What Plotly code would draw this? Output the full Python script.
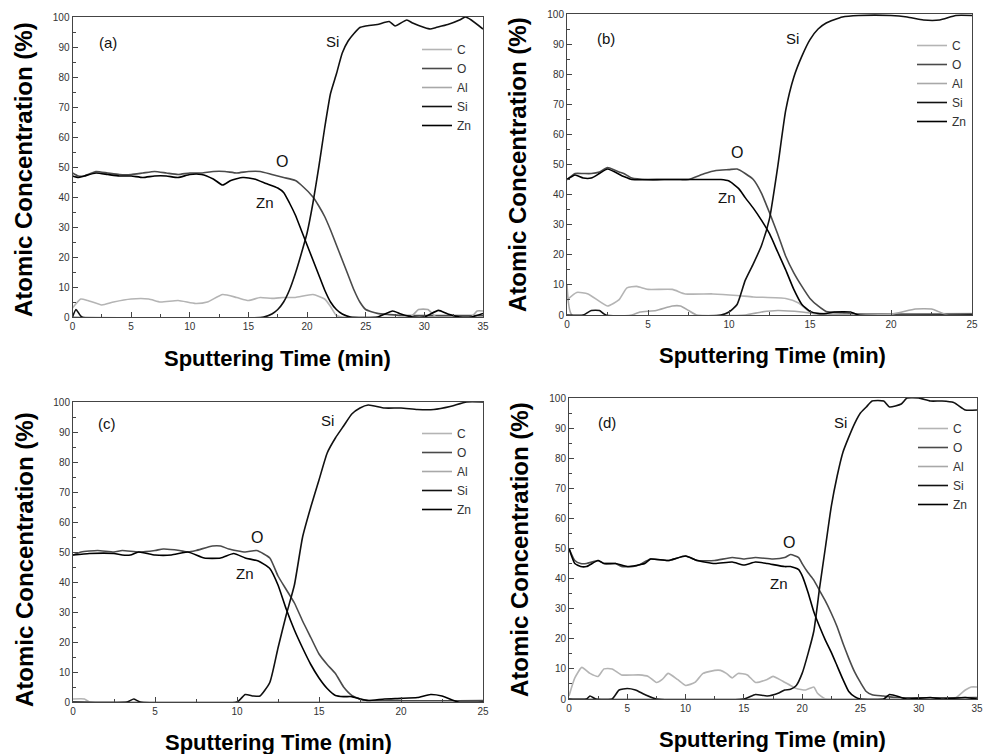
import plotly.graph_objects as go

# ---------------- data ----------------
elements = ["C", "O", "Al", "Si", "Zn"]
colors = {"C": "#b4b4b4", "O": "#4a4a4a", "Al": "#a8a8a8", "Si": "#111111", "Zn": "#000000"}
panel_labels = ["(a)", "(b)", "(c)", "(d)"]
x_max = [35, 25, 25, 35]

# panel (a)
a_C = [(0,3),(0.7,6),(1.3,5.5),(2.5,4),(3.5,5),(5,6),(6.5,6),(7.5,5),(9,5.5),(10.5,4.5),(11.5,5),(12.8,7.5),(14,6.5),(15,5.5),(16,6.5),(17,6.2),(18,6.5),(19,6.5),(20.5,7.5),(21.5,6),(22,3.5),(22.5,0.5),(23,0),(35,0)]
a_O = [(0,48),(0.5,47),(1,47),(2,48.5),(3,48),(4,47.5),(5,47.5),(6,48),(7,48.5),(8,48),(9,47.5),(10,48),(11,48),(12,48.5),(13,48.5),(14,48),(15,48.5),(16,48.5),(17,47.5),(18,46.5),(19,45.5),(19.5,44),(20.5,40),(21,37),(21.5,33.5),(22,29),(22.5,24),(23,19),(23.5,14),(24,9),(24.5,5),(25,2.5),(26,1.2),(27,0.8),(28,0.5),(35,0.5)]
a_Al = [(0,0),(28.8,0),(29.5,2.5),(30.3,2.5),(31,0),(34,0),(34.5,2),(35,2)]
a_Si = [(0,0),(0.3,2.5),(0.8,0),(16.3,0),(17,1),(17.5,2.5),(18,5),(18.5,9),(19,14.5),(19.5,21),(20,28),(20.5,38),(21,50),(21.5,63),(22,74.5),(22.5,81),(23,88),(23.5,92),(24,94.5),(24.5,96.5),(25,97),(26,97.5),(27,98.5),(27.5,97),(28.5,99),(29,98),(30,96.5),(30.5,96),(31,96.5),(32,97.5),(33,99),(33.5,100),(34,99),(35,96)]
a_Zn = [(0,47),(0.5,46.5),(1,47),(2,48),(3,47.5),(4,47),(5,47),(6,46.5),(7,47),(8,47),(9,46.5),(10,47.5),(11,47.5),(12,46),(12.8,44),(13.5,45.5),(14.5,46.5),(15.5,46),(16.5,44.5),(17.5,43),(18,41.5),(18.5,38),(19,34),(19.5,29),(20,24),(20.5,19),(21,14),(21.5,9),(22,5),(22.5,2.5),(23,1),(23.7,0),(26,0),(27.3,2),(28,1),(29,0),(30,0),(31.2,2.2),(32,1),(33,0),(34,0),(35,1.2)]

# panel (b)
b_C = [(0,5),(0.6,7.5),(1.3,7),(2.5,3),(3.2,5),(3.7,9),(4.3,9.5),(5,8.5),(6.5,8.5),(7.3,7),(9,7),(10.5,6.5),(11.5,6),(13.5,5.5),(14.3,4),(15,1),(16,0.5),(25,0.5)]
b_O = [(0,45),(0.5,47),(1,47),(1.5,47),(2,47.5),(2.5,49),(3,48),(3.5,47),(4,45.5),(5,45),(6,45),(7,45),(7.5,45),(8.5,47),(9.2,48),(10,48.3),(10.5,48.5),(11,47),(11.5,45),(12,40.5),(12.5,34),(13,27),(13.5,19.5),(14,14),(14.5,9.5),(15,5.5),(15.5,3),(16,1.2),(17,0.8),(18,0.3),(25,0.3)]
b_Al = [(0,10),(0.3,0),(4,0),(4.5,1),(5.5,1.5),(6.5,3),(7,3),(7.5,1.5),(8,0),(11,0),(12,1),(13,1.5),(14.5,1),(15.5,0.3),(20,0.3),(21.5,2),(22.5,2),(23.5,0),(25,0)]
b_Si = [(0,0),(1,0),(1.5,1.5),(2,1.5),(2.4,0),(9.5,0),(10,1),(10.5,3.5),(11,11.5),(11.5,17),(12,23),(12.5,32),(13,49),(13.5,68),(14,79),(14.5,86),(15,91.5),(15.5,95),(16,97),(17,99),(18,99.5),(20,99.5),(21,99),(22,98),(23,98),(24,99.5),(25,99.5)]
b_Zn = [(0,45),(0.5,46.5),(1,45.5),(1.5,45.5),(2,47),(2.5,48.5),(3.5,46),(4,45),(6,45),(8,45),(9.5,45),(10,44.5),(10.6,42),(11,39),(11.5,35.5),(12,31.5),(12.5,27),(13,21),(13.5,15),(14,8.5),(14.5,3.5),(15,1.2),(15.5,0.5),(16,0.5),(16.5,1),(17.5,1),(18,0),(25,0)]

# panel (c)
c_C = [(0,1),(0.7,1),(1,0),(25,0)]
c_O = [(0,49),(0.5,50),(1.5,50.5),(2.5,50),(3,50.5),(4,50),(5,50.5),(5.5,51),(6.5,50.5),(7,50),(7.5,50.5),(8.5,52),(9,52),(9.5,51),(10.5,50),(11.2,50.5),(12,48),(12.5,42),(13,37.5),(13.5,33),(14,27),(14.5,21.5),(15,16),(15.5,12.5),(16,9.5),(16.5,5),(17,2.2),(17.5,1),(18,0.5),(25,0.5)]
c_Al = [(0,0),(25,0)]
c_Si = [(0,0),(3.3,0),(3.7,1),(4.1,0),(10,0),(10.5,2.5),(11,2),(11.4,2),(12,6.5),(12.5,18),(13,29),(13.5,39),(14,55),(14.5,65),(15,74),(15.5,83),(16,88),(16.5,92),(17,96),(17.5,98),(18,99),(19,98),(20,98),(21,97.5),(22,97.5),(23,98.5),(24,100),(25,100)]
c_Zn = [(0,49),(1,49.5),(2.5,49.5),(3,49),(3.5,49),(4,50),(5,49),(6,49),(7,50),(8,48),(9,48),(9.8,49.5),(10.5,48),(11.3,47),(12,44.5),(12.5,39),(13,31),(13.5,24),(14,18),(14.5,12.5),(15,8),(15.5,4.5),(16,2.2),(16.5,1.8),(17,1.8),(17.5,1),(18,0.5),(19,1),(20,1.2),(21,1.5),(21.8,2.5),(22.5,2),(23.5,0),(25,0)]

# panel (d)
d_C = [(0,1),(0.5,7),(1.1,10.5),(1.8,8.5),(2.5,7.5),(3,10),(3.7,10),(4.5,8),(6,8),(6.8,7.5),(7.5,5.5),(8,6.5),(8.5,8.5),(9.3,6.5),(10,4.5),(10.8,5.5),(11.5,8.5),(12.5,9.5),(13,9.5),(13.5,8.5),(14,7),(14.5,8.5),(15.3,8),(16,5.5),(17,6.5),(17.5,7.5),(18.3,6),(19,4.5),(19.5,3.5),(20.3,3),(21,4),(21.3,2),(22,0),(33,0),(34,3),(34.5,4),(35,4)]
d_O = [(0,50),(0.5,46),(1,45),(1.5,45),(2.5,46),(3,45),(4,45),(4.5,44),(5.5,44),(6,44.5),(7,46.5),(8.5,46),(10,47.5),(11,46),(12.5,46),(14,47),(15,46.5),(16,47),(17.5,46.5),(18.5,47),(19,48),(19.7,47),(20,45),(20.5,42),(21,39.5),(21.5,36),(22,32.5),(22.5,28.5),(23,24),(23.5,18.5),(24,13.5),(24.5,9),(25,5.5),(25.5,2.5),(26,1.4),(27,1),(28,0.5),(35,0.5)]
d_Al = [(0,0),(35,0)]
d_Si = [(0,0),(1.5,0),(1.8,1),(2.3,0),(3.7,0),(4.3,3),(5,3.5),(5.7,3),(6.5,1.5),(7.5,0),(15,0),(16,1.5),(17,1),(18,2),(18.5,3),(19,3.2),(19.5,4.5),(20,8.5),(20.5,15),(21,22.5),(21.5,37),(22,50.5),(22.5,64),(23,74),(23.5,82),(24,87),(24.5,91.5),(25,95),(25.5,97),(26,99),(27,99),(27.5,97),(28.5,98),(29,100),(30,100),(31,99),(32,99),(33,98.5),(34,96),(35,96)]
d_Zn = [(0,50),(0.5,45),(1,44),(1.5,44),(2.5,46),(3,45),(4,45),(5,44),(6.5,45),(7,46.5),(8.5,46),(10,47.5),(11,46),(12.5,45),(14,45.5),(15,44.5),(16,45.5),(17,45),(18.5,44),(19,44),(19.7,43),(20,41),(20.5,35.5),(21,29),(21.5,24),(22,19.5),(22.5,15.5),(23,11),(23.5,6.5),(24,2.5),(24.5,0.8),(25,0),(27,0),(27.5,1.5),(28.5,0.5),(29,0),(31,0.5),(32,0),(34,0.5),(35,0)]

panels = [
    {"C": a_C, "O": a_O, "Al": a_Al, "Si": a_Si, "Zn": a_Zn},
    {"C": b_C, "O": b_O, "Al": b_Al, "Si": b_Si, "Zn": b_Zn},
    {"C": c_C, "O": c_O, "Al": c_Al, "Si": c_Si, "Zn": c_Zn},
    {"C": d_C, "O": d_O, "Al": d_Al, "Si": d_Si, "Zn": d_Zn},
]

# in-plot labels: (label, x, y)
a_notes = [("(a)", 3.0, 91.5), ("Si", 22.2, 91.7), ("O", 17.9, 52), ("Zn", 16.4, 38.3)]
b_notes = [("(b)", 2.4, 92), ("Si", 13.95, 91.7), ("O", 10.5, 54), ("Zn", 9.9, 39)]
c_notes = [("(c)", 2.1, 93), ("Si", 15.5, 93.7), ("O", 11.2, 55), ("Zn", 10.5, 43)]
d_notes = [("(d)", 3.3, 91.7), ("Si", 23.3, 92), ("O", 18.9, 52), ("Zn", 18.0, 38.5)]
notes = [a_notes, b_notes, c_notes, d_notes]

# ---------------- layout geometry (pixels of a 983x754 page) ----------------
W, H = 983, 754
# (left, right, top, bottom) of each plot area
boxes = [(72.5, 483, 17, 317), (567, 972, 14, 315), (73, 483, 402, 702), (569, 977, 398, 699)]
ytitle_pos = [(24, 170), (517, 165), (24, 560), (519, 550)]
xtitle_pos = [(277, 358), (772, 355), (278, 742), (772, 739)]
legend_pos = [(417, 35), (912, 31), (417, 419), (913, 414)]

FONT = "Liberation Sans, Arial, sans-serif"

fig = go.Figure()
layout = dict(
    width=W, height=H, margin=dict(l=0, r=0, t=0, b=0, autoexpand=False),
    plot_bgcolor="white", paper_bgcolor="white",
    font=dict(family=FONT, color="#222"),
    annotations=[],
)

for i, data in enumerate(panels):
    n = "" if i == 0 else str(i + 1)
    leg = "legend" if i == 0 else "legend" + str(i + 1)
    l, r, t, b = boxes[i]
    for el in elements:
        pts = data[el]
        fig.add_trace(go.Scatter(
            x=[p[0] for p in pts], y=[p[1] for p in pts],
            mode="lines", name=el,
            line=dict(color=colors[el], width=1.6, shape="spline", smoothing=0.5),
            xaxis="x" + n, yaxis="y" + n, legend=leg, showlegend=True,
        ))
    axis_common = dict(
        showline=True, linecolor="#444", linewidth=1, mirror=True,
        ticks="inside", ticklen=5, tickcolor="#444", tickwidth=1,
        showgrid=False, zeroline=False, automargin=False,
        tickfont=dict(size=10, color="#333", family=FONT),
    )
    layout["xaxis" + n] = dict(
        axis_common, domain=[l / W, r / W], anchor="y" + n,
        range=[0, x_max[i]], dtick=5, tick0=0,
        minor=dict(ticks="inside", ticklen=3, dtick=2.5, tickcolor="#444"),
    )
    layout["yaxis" + n] = dict(
        axis_common, domain=[1 - b / H, 1 - t / H], anchor="x" + n,
        range=[0, 100], dtick=10, tick0=0,
        minor=dict(ticks="inside", ticklen=3, dtick=5, tickcolor="#444"),
    )
    lx, ly = legend_pos[i]
    layout[leg] = dict(
        x=lx / W, y=1 - ly / H, xanchor="left", yanchor="top",
        xref="paper", yref="paper",
        bgcolor="rgba(0,0,0,0)", borderwidth=0,
        font=dict(size=12, color="#333", family=FONT),
        tracegroupgap=0, itemwidth=30,
    )
    for txt, x, y in notes[i]:
        layout["annotations"].append(dict(
            text=txt, x=x, y=y, xref="x" + n, yref="y" + n, showarrow=False,
            xanchor="center", yanchor="middle",
            font=dict(size=15 if txt != "O" else 16, color="#111", family=FONT),
        ))
    yx, yy = ytitle_pos[i]
    layout["annotations"].append(dict(
        text="<b>Atomic Concentration (%)</b>", x=yx / W, y=1 - yy / H,
        xref="paper", yref="paper", showarrow=False, textangle=-90,
        xanchor="center", yanchor="middle",
        font=dict(size=24, color="#000", family=FONT),
    ))
    xx, xy = xtitle_pos[i]
    layout["annotations"].append(dict(
        text="<b>Sputtering Time (min)</b>", x=xx / W, y=1 - xy / H,
        xref="paper", yref="paper", showarrow=False,
        xanchor="center", yanchor="middle",
        font=dict(size=22, color="#000", family=FONT),
    ))

fig.update_layout(**layout)
fig.write_html("out.html")
